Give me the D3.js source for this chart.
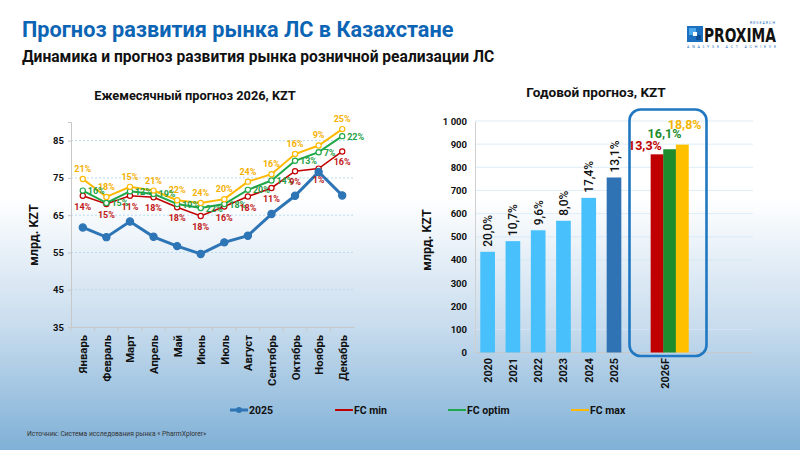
<!DOCTYPE html>
<meta charset="utf-8">
<title>Прогноз развития рынка ЛС в Казахстане</title>
<style>
    body { margin: 0; font-family: Roboto, Arial, sans-serif; }
    svg { display: block; }
</style>
<body>
<script src="https://cdn.jsdelivr.net/npm/d3@7/dist/d3.min.js"></script>
<script>
    /* Monthly forecast 2026 (bln KZT) */
    var months = ["Январь", "Февраль", "Март", "Апрель", "Май", "Июнь", "Июль", "Август", "Сентябрь", "Октябрь", "Ноябрь", "Декабрь"];
    var sales2025 = [61.7, 59.1, 63.3, 59.2, 56.7, 54.6, 57.7, 59.5, 65.3, 70.2, 76.6, 70.3];
    var fcMin = [70.2, 68.0, 70.2, 69.8, 67.1, 64.8, 67.3, 70.0, 72.3, 76.8, 77.5, 82.1];
    var fcOptim = [71.6, 68.3, 71.4, 70.7, 68.0, 66.9, 68.0, 71.8, 74.3, 79.6, 81.9, 86.2];
    var fcMax = [74.7, 69.9, 72.6, 71.6, 69.0, 68.3, 69.3, 74.0, 76.0, 81.4, 83.7, 88.1];
    var growthMin = ["14%", "15%", "11%", "18%", "18%", "18%", "16%", "18%", "11%", "9%", "1%", "16%"];
    var growthOptim = ["16%", "15%", "12%", "19%", "19%", "22%", "18%", "20%", "14%", "13%", "7%", "22%"];
    var growthMax = ["21%", "18%", "15%", "21%", "22%", "24%", "20%", "24%", "16%", "16%", "9%", "25%"];
    var monthTicks = [35, 45, 55, 65, 75, 85];

    /* Yearly forecast (bln KZT) */
    var years = ["2020", "2021", "2022", "2023", "2024", "2025"];
    var yearValues = [435, 481, 528, 569, 668, 756];
    var yearGrowth = ["20,0%", "10,7%", "9,6%", "8,0%", "17,4%", "13,1%"];
    var forecastYear = "2026F";
    var forecastValues = [856, 878, 898];
    var forecastGrowth = ["13,3%", "16,1%", "18,8%"];
    var yearTicks = [0, 100, 200, 300, 400, 500, 600, 700, 800, 900, 1000];

    var width = 800, height = 450;
    var blue = "#2e75b6", red = "#c00000", green = "#1fa84a", orange = "#ffb900";

    var svg = d3.select("body").append("svg")
        .attr("width", width)
        .attr("height", height);

    // background gradient
    var grad = svg.append("defs").append("linearGradient")
        .attr("id", "bg").attr("x1", 0).attr("y1", 0).attr("x2", 0).attr("y2", 1);
    grad.append("stop").attr("offset", "0%").attr("stop-color", "#ffffff");
    grad.append("stop").attr("offset", "44%").attr("stop-color", "#ffffff");
    grad.append("stop").attr("offset", "72%").attr("stop-color", "#c9ddee");
    grad.append("stop").attr("offset", "100%").attr("stop-color", "#7fb0d6");
    svg.append("rect").attr("width", width).attr("height", height).attr("fill", "url(#bg)");

    // header
    svg.append("text").attr("x", 22).attr("y", 37)
        .attr("font-size", 21.7).attr("font-weight", "bold").attr("fill", "#0b64b4")
        .text("Прогноз развития рынка ЛС в Казахстане");
    svg.append("text").attr("x", 22).attr("y", 62)
        .attr("font-size", 15.6).attr("font-weight", "bold").attr("fill", "#111")
        .text("Динамика и прогноз развития рынка розничной реализации ЛС");

    drawLogo();

    /* ---------- Left chart: monthly lines ---------- */
    var left = { x0: 71, x1: 354, y0: 122, y1: 327 };
    var x = d3.scaleBand().domain(months).range([left.x0, left.x1]);
    var y = d3.scaleLinear().domain([35, 90]).range([left.y1, left.y0]);
    var cx = function (m) { return x(m) + x.bandwidth() / 2; };

    svg.append("text").attr("x", 195).attr("y", 100).attr("text-anchor", "middle")
        .attr("font-size", 12.8).attr("font-weight", "bold").attr("fill", "#111")
        .text("Ежемесячный прогноз 2026, KZT");

    var grid = svg.append("g");
    grid.selectAll("line").data(monthTicks.slice(1)).enter().append("line")
        .attr("x1", left.x0).attr("x2", left.x1)
        .attr("y1", d => y(d)).attr("y2", d => y(d))
        .attr("stroke", "#b8dcf0").attr("stroke-dasharray", "2,2");

    var yAxis = svg.append("g").attr("transform", "translate(" + left.x0 + ",0)")
        .call(d3.axisLeft(y).tickValues(monthTicks).tickSize(3).tickPadding(4));
    yAxis.select(".domain").attr("stroke", "#c8c8c8");
    yAxis.selectAll(".tick line").attr("stroke", "#c8c8c8");
    yAxis.selectAll("text").attr("font-size", 9.5).attr("font-weight", "bold").attr("fill", "#111")
        .attr("font-family", "Roboto, Arial, sans-serif");

    svg.append("text").attr("transform", "translate(38,235) rotate(-90)")
        .attr("text-anchor", "middle").attr("font-size", 12.5).attr("font-weight", "bold").attr("fill", "#111")
        .text("млрд. KZT");

    var xAxis = svg.append("g").attr("transform", "translate(0," + left.y1 + ")")
        .call(d3.axisBottom(x).tickSize(0).tickPadding(0));
    xAxis.select(".domain").attr("stroke", "#c8c8c8");
    xAxis.selectAll(".tick text")
        .attr("transform", "translate(4.5,8) rotate(-90)")
        .attr("text-anchor", "end").attr("dy", 0).attr("y", 0)
        .attr("font-size", 11.3).attr("font-weight", "bold").attr("fill", "#111")
        .attr("font-family", "Roboto, Arial, sans-serif");
    // separators between categories
    svg.append("g").selectAll("line").data(months).enter().append("line")
        .attr("x1", d => x(d)).attr("x2", d => x(d))
        .attr("y1", left.y1).attr("y2", left.y1 + 4)
        .attr("stroke", "#c8c8c8");

    var line = d3.line().x((d, i) => cx(months[i])).y(d => y(d));

    function drawSeries(values, color, strokeW, filled, r) {
        svg.append("path").datum(values)
            .attr("d", line).attr("fill", "none")
            .attr("stroke", color).attr("stroke-width", strokeW);
        svg.append("g").selectAll("circle").data(values).enter().append("circle")
            .attr("cx", (d, i) => cx(months[i])).attr("cy", d => y(d)).attr("r", r)
            .attr("fill", filled ? color : "#fff").attr("stroke", color).attr("stroke-width", 1.2);
    }

    function drawLabels(values, labels, color, dx, dy, anchor) {
        svg.append("g").selectAll("text").data(values).enter().append("text")
            .attr("x", (d, i) => cx(months[i]) + dx).attr("y", d => y(d) + dy)
            .attr("text-anchor", anchor).attr("font-size", 9).attr("font-weight", "bold")
            .attr("fill", color)
            .text((d, i) => labels[i]);
    }

    drawSeries(fcMin, red, 1.6, false, 2.6);
    drawSeries(fcOptim, green, 2, false, 2.6);
    drawSeries(fcMax, orange, 2, false, 2.6);
    drawSeries(sales2025, blue, 3, true, 3.6);

    drawLabels(fcMax, growthMax, "#f5b000", 0, -7, "middle");
    drawLabels(fcOptim, growthOptim, "#1f9e46", 5, 3.5, "start");
    drawLabels(fcMin, growthMin, "#c01818", 0, 14, "middle");

    /* ---------- Right chart: yearly bars ---------- */
    var right = { x0: 475, x1: 753, y0: 121, y1: 352.5 };
    var slots = years.concat(["s1", forecastYear, "s2", "s3", "s4"]);
    var xb = d3.scaleBand().domain(slots).range([right.x0, right.x1]);
    var yb = d3.scaleLinear().domain([0, 1000]).range([right.y1, right.y0]);
    var barW = xb.bandwidth() * 0.58;

    svg.append("text").attr("x", 596).attr("y", 97).attr("text-anchor", "middle")
        .attr("font-size", 13.6).attr("font-weight", "bold").attr("fill", "#111")
        .text("Годовой прогноз, KZT");

    svg.append("g").selectAll("line").data(yearTicks.slice(1)).enter().append("line")
        .attr("x1", right.x0).attr("x2", right.x1)
        .attr("y1", d => yb(d)).attr("y2", d => yb(d))
        .attr("stroke", "#d4e8f5").attr("stroke-width", 0.8);

    var ybAxis = svg.append("g").attr("transform", "translate(" + right.x0 + ",0)")
        .call(d3.axisLeft(yb).tickValues(yearTicks).tickSize(0).tickPadding(8)
            .tickFormat(d => d >= 1000 ? "1 000" : d));
    ybAxis.select(".domain").attr("stroke", "#d0d0d0");
    ybAxis.selectAll("text").attr("font-size", 9.5).attr("font-weight", "bold").attr("fill", "#111")
        .attr("font-family", "Roboto, Arial, sans-serif");

    svg.append("text").attr("transform", "translate(431,240) rotate(-90)")
        .attr("text-anchor", "middle").attr("font-size", 12.5).attr("font-weight", "bold").attr("fill", "#111")
        .text("млрд. KZT");

    svg.append("line").attr("x1", right.x0).attr("x2", right.x1)
        .attr("y1", right.y1).attr("y2", right.y1).attr("stroke", "#c8c8c8");

    svg.append("g").selectAll("text").data([].concat(years, [forecastYear])).enter().append("text")
        .attr("transform", d => "translate(" + (xb(d) + xb.bandwidth() / 2 + 4) + ",358) rotate(-90)")
        .attr("text-anchor", "end").attr("font-size", 10.8).attr("font-weight", "bold").attr("fill", "#111")
        .text(d => d);

    // historical bars
    svg.append("g").selectAll("rect").data(yearValues).enter().append("rect")
        .attr("x", (d, i) => xb(years[i]) + (xb.bandwidth() - barW) / 2)
        .attr("width", barW)
        .attr("y", d => yb(d)).attr("height", d => yb(0) - yb(d))
        .attr("fill", (d, i) => i === years.length - 1 ? "#2f73b4" : "#47c0fb");

    svg.append("g").selectAll("text").data(yearValues).enter().append("text")
        .attr("transform", (d, i) => "translate(" + (xb(years[i]) + xb.bandwidth() / 2 + 4.5) + "," + (yb(d) - 5) + ") rotate(-90)")
        .attr("text-anchor", "start").attr("font-size", 12).attr("font-weight", 500).attr("fill", "#111")
        .text((d, i) => yearGrowth[i]);

    // forecast group
    var fColors = ["#c00000", "#1e8b2d", "#ffc000"];
    var fLabelColors = ["#c00000", "#1e8b2d", "#f5b400"];
    var fW = 12.6;
    var groupX = xb(forecastYear) + xb.bandwidth() / 2 + 5 - fW * 1.5;
    svg.append("g").selectAll("rect").data(forecastValues).enter().append("rect")
        .attr("x", (d, i) => groupX + i * fW).attr("width", fW + 0.3)
        .attr("y", d => yb(d)).attr("height", d => yb(0) - yb(d))
        .attr("fill", (d, i) => fColors[i]);

    var fLabelDx = [-12, -5, 2.5], fLabelDy = [-4, -11, -16];
    svg.append("g").selectAll("text").data(forecastValues).enter().append("text")
        .attr("x", (d, i) => groupX + (i + 0.5) * fW + fLabelDx[i])
        .attr("y", (d, i) => yb(d) + fLabelDy[i])
        .attr("text-anchor", "middle").attr("font-size", 12.5).attr("font-weight", "bold")
        .attr("fill", (d, i) => fLabelColors[i])
        .text((d, i) => forecastGrowth[i]);

    svg.append("rect").attr("x", 629.5).attr("y", 109.5).attr("width", 77).attr("height", 246.5)
        .attr("rx", 11).attr("fill", "none").attr("stroke", "#1f78c1").attr("stroke-width", 2.6);

    /* ---------- Legend ---------- */
    var legend = [
        { name: "2025", color: blue, x: 230, marker: true },
        { name: "FC min", color: red, x: 335 },
        { name: "FC optim", color: green, x: 448 },
        { name: "FC max", color: orange, x: 571 }
    ];
    var lg = svg.append("g").selectAll("g").data(legend).enter().append("g")
        .attr("transform", d => "translate(" + d.x + ",410)");
    lg.append("line").attr("x1", 0).attr("x2", 18).attr("y1", 0).attr("y2", 0)
        .attr("stroke", d => d.color).attr("stroke-width", d => d.marker ? 3 : 2);
    lg.filter(d => d.marker).append("circle").attr("cx", 9).attr("r", 3).attr("fill", d => d.color);
    lg.append("text").attr("x", 19).attr("y", 3.8).attr("font-size", 10.5).attr("font-weight", "bold")
        .attr("fill", "#111").text(d => d.name);

    svg.append("text").attr("x", 27).attr("y", 436).attr("font-size", 6.7).attr("fill", "#333")
        .text("Источник: Система исследования рынка « PharmXplorer»");

    function drawLogo() {
        var g = svg.append("g").attr("transform", "translate(687,26)");
        g.append("rect").attr("width", 16).attr("height", 16).attr("fill", "#1d6fc0");
        g.append("rect").attr("x", 2).attr("y", 2).attr("width", 7).attr("height", 7).attr("fill", "#4aa8ea");
        g.append("rect").attr("x", 9).attr("y", 9).attr("width", 5).attr("height", 5).attr("fill", "#0d4f96");
        g.append("rect").attr("x", 6).attr("y", 6).attr("width", 4).attr("height", 4).attr("fill", "#ffffff");
        g.append("text").attr("x", 17).attr("y", 16).attr("font-size", 19.5).attr("font-weight", "bold")
            .attr("font-family", "'Liberation Sans Narrow', 'DejaVu Sans Condensed', Arial, sans-serif")
            .attr("textLength", 72).attr("lengthAdjust", "spacingAndGlyphs")
            .attr("fill", "#111").text("PROXIMA");
        g.append("text").attr("x", 89).attr("y", -2).attr("text-anchor", "end").attr("font-size", 3.6)
            .attr("letter-spacing", 1).attr("fill", "#1d6fc0").text("RESEARCH");
        g.append("text").attr("x", 0).attr("y", 22).attr("font-size", 3.6)
            .attr("textLength", 89).attr("fill", "#1d6fc0").text("ANALYSE   ACT   ACHIEVE");
    }
</script>
</body>
